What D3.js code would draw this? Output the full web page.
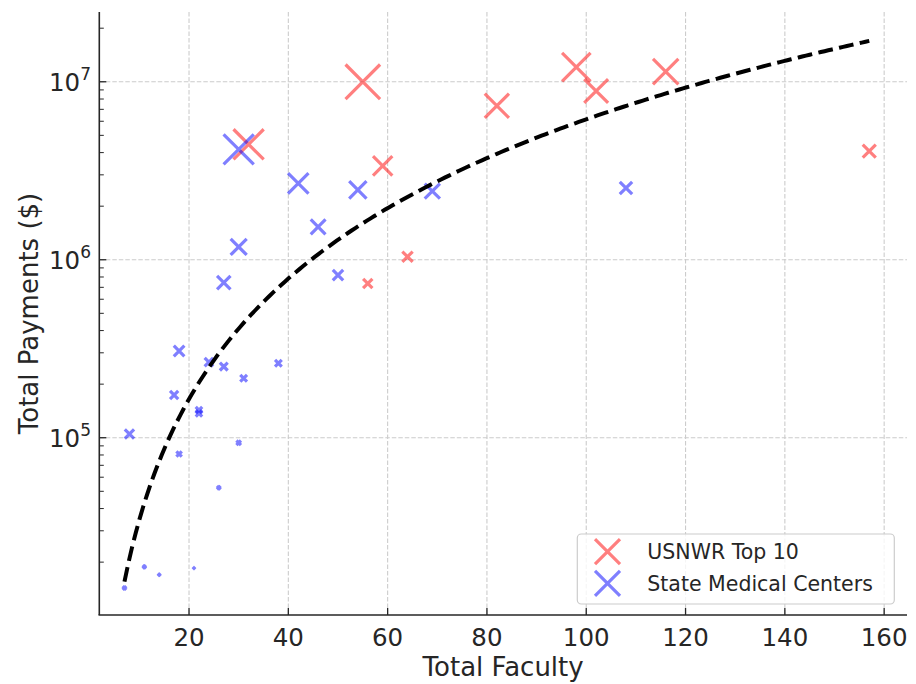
<!DOCTYPE html>
<html>
<head>
<meta charset="utf-8">
<script src="https://cdn.jsdelivr.net/npm/d3@7/dist/d3.min.js"></script>
<style>
  html, body { margin: 0; padding: 0; background: #ffffff; }
  svg { display: block; font-family: "DejaVu Sans", sans-serif; }
</style>
</head>
<body>
<svg id="chart" width="916" height="684"></svg>
<script>
// USNWR Top 10 programs: faculty count and total industry payments ($)
const top10Faculty  = [55, 98, 102, 116, 82, 32, 59, 64, 56, 157];
const top10Payments = [1.0e7, 1.21e7, 8.87e6, 1.14e7, 7.33e6, 4.45e6, 3.37e6, 1.04e6, 7.36e5, 4.08e6];

// State medical centers
const stateFaculty  = [30, 42, 54, 69, 108, 46, 30, 50, 27, 18, 24, 27, 31, 38, 17, 22, 22, 30, 8, 18, 26, 11, 14, 21, 7];
const statePayments = [4.17e6, 2.69e6, 2.47e6, 2.43e6, 2.53e6, 1.53e6, 1.18e6, 8.2e5, 7.43e5, 3.07e5,
                       2.66e5, 2.51e5, 2.16e5, 2.62e5, 1.74e5, 1.43e5, 1.37e5, 9.37e4, 1.05e5, 8.1e4,
                       5.24e4, 1.88e4, 1.70e4, 1.85e4, 1.43e4];

// Power-law trend: payments = coeff * faculty ^ exponent
const fitCoeff = 195.4;
const fitExponent = 2.249;

const xTicks = [20, 40, 60, 80, 100, 120, 140, 160];
const yDecades = [5, 6, 7];

const seriesNames = ["USNWR Top 10", "State Medical Centers"];
const seriesColors = ["#ff0000", "#0000ff"];

const svg = d3.select("#chart");
const W = 916, H = 684;
const m = { left: 99.3, right: W - 907, top: 12, bottom: H - 615 };

const x = d3.scaleLinear().domain([1.93, 164.6]).range([m.left, W - m.right]);
const y = d3.scaleLog().domain([Math.pow(10, 4.004), Math.pow(10, 7.392)]).range([H - m.bottom, m.top]);

const ink = "#262626";

// grid
const grid = svg.append("g").attr("stroke", "#cccccc").attr("stroke-width", 1.1)
  .attr("stroke-dasharray", "4.5,2");
grid.selectAll("line.v").data(xTicks).join("line")
  .attr("x1", d => x(d)).attr("x2", d => x(d))
  .attr("y1", m.top).attr("y2", H - m.bottom);
grid.selectAll("line.h").data(yDecades).join("line")
  .attr("x1", m.left).attr("x2", W - m.right)
  .attr("y1", d => y(Math.pow(10, d))).attr("y2", d => y(Math.pow(10, d)));

// marker size follows payments per faculty member
const allRatios = top10Payments.map((p, i) => p / top10Faculty[i])
  .concat(statePayments.map((p, i) => p / stateFaculty[i]));
const sizeScale = d3.scaleSqrt().domain([0, d3.max(allRatios)]).range([0, 0.081 * Math.sqrt(d3.max(allRatios))]);

function xPath(cx, cy, w) {
  const h = w / 2;
  return `M${cx - h},${cy - h}L${cx + h},${cy + h}M${cx - h},${cy + h}L${cx + h},${cy - h}`;
}

const series = [
  { name: seriesNames[0], color: seriesColors[0], fac: top10Faculty, pay: top10Payments },
  { name: seriesNames[1], color: seriesColors[1], fac: stateFaculty, pay: statePayments }
];

const marks = svg.append("g");
series.forEach(s => {
  const pts = s.fac.map((f, i) => ({ f, p: s.pay[i] }));
  marks.append("g").selectAll("path").data(pts).join("path")
    .attr("d", d => xPath(x(d.f), y(d.p), sizeScale(d.p / d.f)))
    .attr("fill", "none")
    .attr("stroke", s.color)
    .attr("stroke-opacity", 0.5)
    .attr("stroke-width", 3.2)
    .attr("stroke-linecap", "butt");
});

// trend curve across the faculty range
const allFaculty = top10Faculty.concat(stateFaculty);
const fMin = d3.min(allFaculty), fMax = d3.max(allFaculty);
const curvePts = d3.range(0, 201).map(k => {
  const f = fMin + (fMax - fMin) * k / 200;
  return [f, fitCoeff * Math.pow(f, fitExponent)];
});
svg.append("path")
  .attr("d", d3.line().x(d => x(d[0])).y(d => y(d[1]))(curvePts))
  .attr("fill", "none")
  .attr("stroke", "#000000")
  .attr("stroke-width", 4)
  .attr("stroke-dasharray", "14.8,6.4");

// axes (left and bottom spines, inward ticks)
const axes = svg.append("g").attr("stroke", ink);
axes.append("line").attr("x1", m.left).attr("x2", m.left).attr("y1", m.top).attr("y2", H - m.bottom)
  .attr("stroke-width", 1.6);
axes.append("line").attr("x1", m.left - 0.8).attr("x2", W - m.right).attr("y1", H - m.bottom).attr("y2", H - m.bottom)
  .attr("stroke-width", 1.6);

axes.selectAll("line.xt").data(xTicks).join("line")
  .attr("x1", d => x(d)).attr("x2", d => x(d))
  .attr("y1", H - m.bottom).attr("y2", H - m.bottom - 7)
  .attr("stroke-width", 1.3);

const [yLo, yHi] = y.domain();
const majorY = yDecades.map(d => Math.pow(10, d));
const minorY = [];
for (let e = 4; e <= 7; e++) {
  for (let k = 2; k <= 9; k++) {
    const v = k * Math.pow(10, e);
    if (v >= yLo && v <= yHi) minorY.push(v);
  }
}
axes.selectAll("line.ymaj").data(majorY).join("line")
  .attr("x1", m.left).attr("x2", m.left + 7)
  .attr("y1", d => y(d)).attr("y2", d => y(d))
  .attr("stroke-width", 1.3);
axes.selectAll("line.ymin").data(minorY).join("line")
  .attr("x1", m.left).attr("x2", m.left + 4.5)
  .attr("y1", d => y(d)).attr("y2", d => y(d))
  .attr("stroke-width", 1.0);

// tick labels
svg.append("g").selectAll("text").data(xTicks).join("text")
  .attr("x", d => x(d)).attr("y", 646)
  .attr("text-anchor", "middle")
  .attr("font-size", 24.5).attr("fill", ink)
  .text(d => d);

const yl = svg.append("g").selectAll("text").data(yDecades).join("text")
  .attr("x", 91).attr("y", d => y(Math.pow(10, d)) + 9)
  .attr("text-anchor", "end")
  .attr("font-size", 24.5).attr("fill", ink);
yl.append("tspan").text("10");
yl.append("tspan").attr("font-size", 17).attr("dy", -11).text(d => d);

// axis titles
svg.append("text").attr("x", (m.left + W - m.right) / 2).attr("y", 676)
  .attr("text-anchor", "middle").attr("font-size", 26).attr("fill", ink)
  .text("Total Faculty");
svg.append("text")
  .attr("transform", `translate(37.5,${(m.top + H - m.bottom) / 2}) rotate(-90)`)
  .attr("text-anchor", "middle").attr("font-size", 26).attr("fill", ink)
  .text("Total Payments ($)");

// legend
const lg = svg.append("g");
lg.append("rect").attr("x", 577.3).attr("y", 534).attr("width", 317).attr("height", 70)
  .attr("rx", 4).attr("fill", "#ffffff").attr("fill-opacity", 0.8)
  .attr("stroke", "#cccccc").attr("stroke-width", 1.2);
const rows = lg.selectAll("g.row").data(series).join("g")
  .attr("transform", (d, i) => `translate(0,${551.7 + i * 31.6})`);
rows.append("path")
  .attr("d", xPath(607.5, 0, 25))
  .attr("fill", "none")
  .attr("stroke", d => d.color).attr("stroke-opacity", 0.5)
  .attr("stroke-width", 3.2);
rows.append("text").attr("x", 647.3).attr("y", 7.5)
  .attr("font-size", 20.5).attr("fill", ink)
  .text(d => d.name);
</script>
</body>
</html>
